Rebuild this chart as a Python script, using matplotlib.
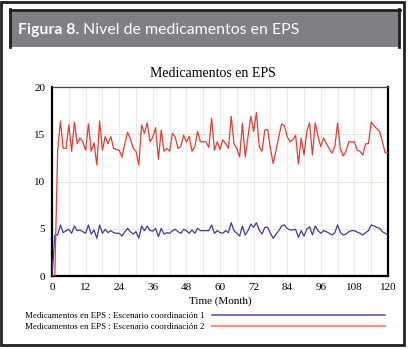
import numpy as np
import matplotlib.pyplot as plt
from matplotlib.patches import Rectangle
from matplotlib.lines import Line2D
from matplotlib.ticker import MultipleLocator

# monthly values
months = np.arange(0, 121)

coord1 = [0, 4.34, 4.34, 5.4, 4.59, 4.8, 4.94, 4.52, 5.29, 4.8,
          4.87, 4.69, 4.52, 5.4, 4.44, 4.87, 3.99, 5.4, 4.52, 4.94,
          4.59, 4.8, 4.59, 4.52, 4.52, 4.23, 4.69, 5.04, 4.69, 4.44,
          4.69, 4.0, 5.29, 4.8, 5.29, 4.8, 4.75, 5.04, 4.16, 5.04,
          4.44, 4.59, 4.52, 4.8, 4.94, 4.69, 4.52, 4.94, 4.8, 4.52,
          4.87, 4.52, 5.04, 4.8, 4.8, 4.8, 4.8, 5.4, 4.52, 4.8,
          4.6, 4.52, 4.8, 4.59, 5.64, 4.8, 4.52, 4.23, 5.29, 4.34,
          4.8, 5.5, 5.15, 5.64, 4.87, 4.44, 5.15, 5.15, 4.52, 3.99,
          4.44, 4.8, 5.29, 5.4, 5.04, 4.87, 4.87, 4.94, 4.09, 4.8,
          4.23, 4.94, 5.22, 4.34, 5.29, 4.8, 4.52, 4.8, 4.69, 4.52,
          4.34, 4.59, 5.4, 4.6, 4.34, 4.44, 4.69, 4.8, 4.8, 4.65,
          4.52, 4.34, 4.59, 4.8, 5.4, 5.29, 5.15, 5.04, 4.69, 4.52, 4.34]

coord2 = [0, 0, 13.2, 16.4, 13.5, 13.5, 16.0, 13.2, 16.3, 14.0,
          14.6, 14.2, 13.3, 16.1, 13.2, 14.1, 11.75, 16.4, 13.3, 14.75,
          14.0, 14.75, 13.5, 13.4, 13.3, 12.6, 14.0, 15.2, 14.5, 13.5,
          13.2, 11.75, 16.0, 15.1, 16.2, 14.2, 14.7, 15.7, 12.35, 15.45,
          13.2, 13.5, 13.2, 15.1, 14.7, 13.5, 13.7, 14.9, 14.2, 14.75,
          13.2, 13.7, 15.3, 14.2, 14.2, 14.2, 13.6, 16.7, 13.3, 14.2,
          13.4, 14.4, 14.0, 13.5, 16.9, 14.0, 13.5, 12.6, 16.15, 12.6,
          14.75, 16.9, 15.3, 17.3, 13.7, 13.2, 15.45, 15.5, 13.5, 11.9,
          13.3, 14.75, 16.1, 15.9, 14.75, 14.2, 14.4, 14.9, 11.85, 14.6,
          12.8, 15.3, 16.2, 12.8, 16.2, 14.8, 13.7, 14.6, 14.0, 13.5,
          13.0, 13.7, 16.2, 13.4, 12.7, 13.2, 14.2, 14.2, 14.2, 13.3,
          13.2, 12.8, 14.0, 14.0, 16.3, 15.9, 15.6, 15.3, 14.2, 13.05, 13.05]

series_labels = ['Medicamentos en EPS : Escenario coordinación 1',
                 'Medicamentos en EPS : Escenario coordinación 2']
x_ticks = list(range(0, 121, 12))
y_ticks = [0, 5, 10, 15, 20]

serif = 'Liberation Serif'

fig = plt.figure(figsize=(4.08, 3.5), dpi=100)

# outer frame and header band
fig.patches.append(Rectangle((1.4 / 408, 4.6 / 350), 402.6 / 408, 343.9 / 350,
                             transform=fig.transFigure, fill=False,
                             edgecolor='#231f20', lw=2.0))
fig.patches.append(Rectangle((11 / 408, 303 / 350), 388 / 408, 37 / 350,
                             transform=fig.transFigure, facecolor='#807f84',
                             edgecolor='none'))
for xs, ys in [((10 / 408, 10 / 408), (303 / 350, 341 / 350)),
               ((399 / 408, 399 / 408), (303 / 350, 341 / 350)),
               ((10 / 408, 400 / 408), (340 / 350, 340 / 350))]:
    fig.lines.append(Line2D(xs, ys, transform=fig.transFigure,
                            color='#231f20', lw=2.0))

t1 = fig.text(18 / 408, 0.914, 'Figura 8.', color='white', fontsize=11.4,
              fontweight='bold', family='Lato', va='center')
fig.canvas.draw()
bb = t1.get_window_extent().transformed(fig.transFigure.inverted())
fig.text(bb.x1 + 4 / 408, 0.914, 'Nivel de medicamentos en EPS', color='white',
         fontsize=11.4, family='Lato', va='center')

fig.text(0.522, 0.79, 'Medicamentos en EPS', family=serif, fontsize=10,
         ha='center', va='center')

ax = fig.add_axes([0.1275, 0.2114, 0.8235, 0.54])
ax.plot(months, coord1, color='#3d3d9c', lw=0.9, zorder=3)
ax.plot(months, coord2, color='#ec3a30', lw=0.9, zorder=3)

ax.set_xlim(0, 120)
ax.set_ylim(0, 20)
ax.set_xticks(x_ticks)
ax.xaxis.set_minor_locator(MultipleLocator(6))
ax.set_yticks(y_ticks)
ax.grid(True, which='both', axis='x', color='#eeebe4', lw=0.8)
ax.grid(True, which='major', axis='y', color='#ece6d8', lw=0.8)
ax.set_axisbelow(True)
ax.tick_params(which='both', length=0, labelsize=8, pad=5)
for lab in ax.get_xticklabels() + ax.get_yticklabels():
    lab.set_family(serif)
ax.set_xlabel('Time (Month)', family=serif, fontsize=8, labelpad=3)

for side in ['left', 'bottom', 'right']:
    ax.spines[side].set_linewidth(1.6)
    ax.spines[side].set_color('black')
ax.spines['top'].set_linewidth(0.9)
ax.spines['top'].set_color('#444444')

handles = [Line2D([], [], color='#5050a8', lw=1.1),
           Line2D([], [], color='#f29480', lw=1.6)]
fig.legend(handles, series_labels, loc='upper left',
           bbox_to_anchor=(25 / 408, 1 - 312 / 350), frameon=False,
           markerfirst=False, handlelength=19.5, handletextpad=0.8,
           labelspacing=0.3, borderpad=0, borderaxespad=0,
           prop={'family': serif, 'size': 6.4})

fig.savefig('out.png', dpi=100)
